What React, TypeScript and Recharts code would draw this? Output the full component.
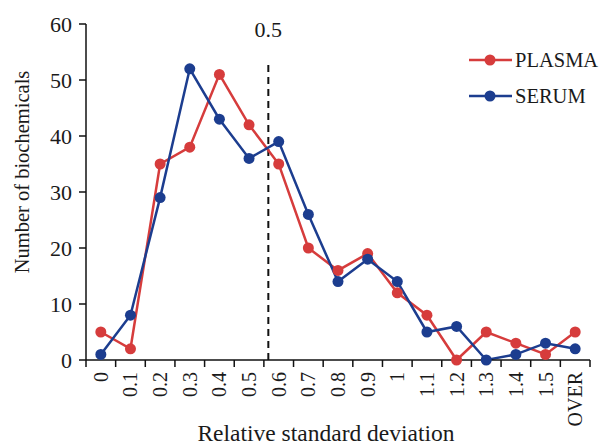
import React from "react";
import {
  LineChart,
  Line,
  XAxis,
  YAxis,
  ReferenceLine,
} from "recharts";

// categories on the x axis (relative standard deviation bins)
const categories = [
  "0", "0.1", "0.2", "0.3", "0.4", "0.5", "0.6", "0.7", "0.8",
  "0.9", "1", "1.1", "1.2", "1.3", "1.4", "1.5", "OVER",
];

// number of biochemicals per bin
const plasma = [5, 2, 35, 38, 51, 42, 35, 20, 16, 19, 12, 8, 0, 5, 3, 1, 5];
const serum = [1, 8, 29, 52, 43, 36, 39, 26, 14, 18, 14, 5, 6, 0, 1, 3, 2];

const yTicks = [0, 10, 20, 30, 40, 50, 60];

// where the 0.5 threshold line sits, in bin units
const thresholdPos = 6.15;
const thresholdTop = 53.5;
const thresholdLabel = "0.5";

const PLASMA_COLOR = "#d63c3c";
const SERUM_COLOR = "#1c3d8f";
const TEXT_COLOR = "#1a1a1a";
const FONT = "'Liberation Serif', 'Times New Roman', serif";

// bins are drawn at their centres, tick marks at bin edges
const data = categories.map((c, i) => ({
  pos: i + 0.5,
  label: c,
  plasma: plasma[i],
  serum: serum[i],
}));
const edgeTicks = [...categories.map((_, i) => i), categories.length];

const BinTick = (props: any) => {
  const { x, y, payload, width } = props;
  const i = payload.value;
  if (i >= categories.length) return null;
  const half = (width || 504) / categories.length / 2;
  const cx = x + half;
  return (
    <text
      x={cx}
      y={y}
      transform={`rotate(-90 ${cx} ${y})`}
      textAnchor="end"
      dominantBaseline="central"
      fontSize={20}
      fontFamily={FONT}
      fill={TEXT_COLOR}
    >
      {categories[i]}
    </text>
  );
};

const LegendBox = () => {
  const items = [
    { name: "PLASMA", color: PLASMA_COLOR },
    { name: "SERUM", color: SERUM_COLOR },
  ];
  return (
    <div
      style={{
        position: "absolute",
        left: 469,
        top: 42,
        width: 128,
        fontFamily: FONT,
        color: TEXT_COLOR,
        whiteSpace: "nowrap",
      }}
    >
      {items.map((it) => (
        <div
          key={it.name}
          style={{ display: "flex", alignItems: "center", height: 36 }}
        >
          <svg width={43} height={14} style={{ marginRight: 3, flexShrink: 0 }}>
            <line x1={0} y1={7} x2={43} y2={7} stroke={it.color} strokeWidth={2.5} />
            <circle cx={21} cy={7} r={5.5} fill={it.color} />
          </svg>
          <span style={{ fontSize: 20.5 }}>{it.name}</span>
        </div>
      ))}
    </div>
  );
};

export default function App() {
  return (
    <div style={{ position: "absolute", left: 0, top: 0, background: "#fff" }}>
      <LineChart
        width={599}
        height={448}
        data={data}
        margin={{ top: 24, right: 9, left: 0, bottom: 0 }}
      >
        <XAxis
          dataKey="pos"
          type="number"
          domain={[0, categories.length]}
          ticks={edgeTicks}
          interval={0}
          tick={<BinTick />}
          tickSize={7}
          tickMargin={5}
          height={88}
          stroke="#111"
          strokeWidth={1.5}
          label={({ viewBox }: any) => (
            <text
              x={viewBox.x + viewBox.width / 2 - 12}
              y={viewBox.y + 81}
              textAnchor="middle"
              fontSize={23.5}
              fontFamily={FONT}
              fill={TEXT_COLOR}
            >
              Relative standard deviation
            </text>
          )}
        />
        <YAxis
          domain={[0, 60]}
          ticks={yTicks}
          interval={0}
          width={86}
          tickSize={7}
          tickMargin={7}
          stroke="#111"
          strokeWidth={1.5}
          tick={{ fontSize: 22, fontFamily: FONT, fill: TEXT_COLOR }}
          label={({ viewBox }: any) => {
            const cx = viewBox.x + 22;
            const cy = viewBox.y + viewBox.height / 2 - 20;
            return (
              <text
                x={cx}
                y={cy}
                transform={`rotate(-90 ${cx} ${cy})`}
                textAnchor="middle"
                dominantBaseline="central"
                fontSize={20.5}
                fontFamily={FONT}
                fill={TEXT_COLOR}
              >
                Number of biochemicals
              </text>
            );
          }}
        />
        <ReferenceLine
          segment={[
            { x: thresholdPos, y: 0 },
            { x: thresholdPos, y: thresholdTop },
          ]}
          stroke="#111"
          strokeWidth={2}
          strokeDasharray="7 5"
          ifOverflow="visible"
          label={{
            value: thresholdLabel,
            position: "top",
            offset: 23,
            fontSize: 22,
            fontFamily: FONT,
            fill: TEXT_COLOR,
          }}
        />
        <Line
          type="linear"
          dataKey="plasma"
          name="PLASMA"
          stroke={PLASMA_COLOR}
          strokeWidth={2.5}
          dot={{ r: 5.5, fill: PLASMA_COLOR, stroke: PLASMA_COLOR, strokeWidth: 0 }}
          activeDot={false}
          isAnimationActive={false}
        />
        <Line
          type="linear"
          dataKey="serum"
          name="SERUM"
          stroke={SERUM_COLOR}
          strokeWidth={2.5}
          dot={{ r: 5.5, fill: SERUM_COLOR, stroke: SERUM_COLOR, strokeWidth: 0 }}
          activeDot={false}
          isAnimationActive={false}
        />
      </LineChart>
      <LegendBox />
    </div>
  );
}
